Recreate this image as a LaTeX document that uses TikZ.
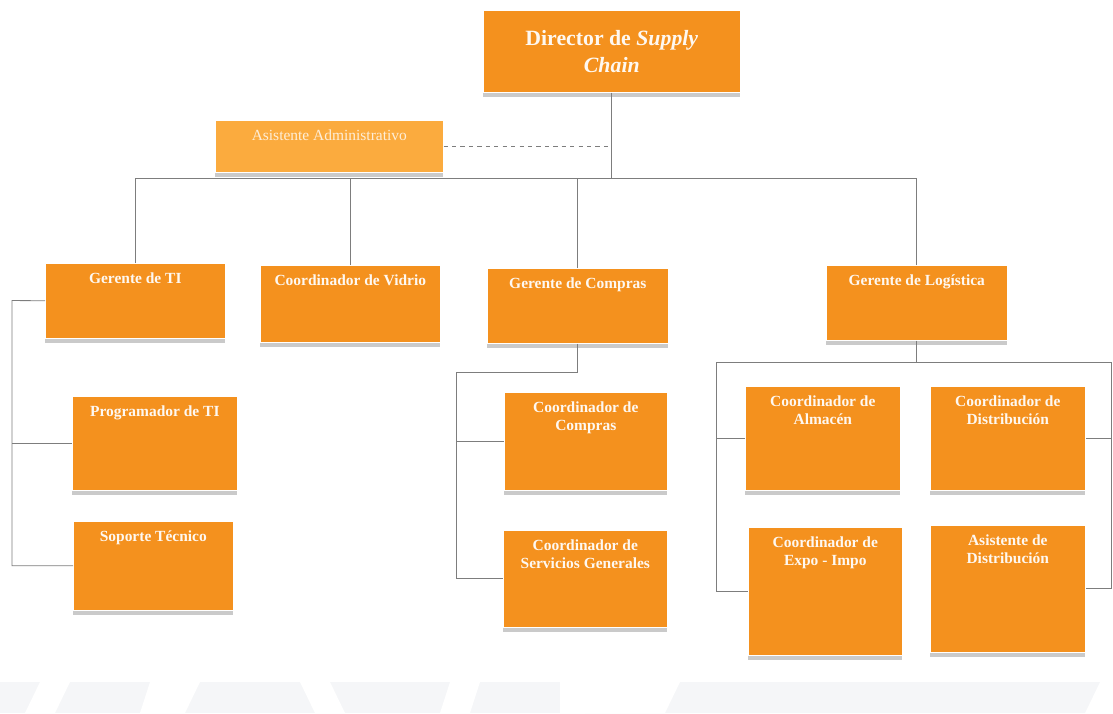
\documentclass[tikz,border=0pt]{standalone}
\usepackage{fontspec}
\setmainfont{Liberation Serif}
\usetikzlibrary{shadows}

\definecolor{boxorange}{RGB}{244,145,30}
\definecolor{asisorange}{RGB}{251,171,62}
\definecolor{lineg}{RGB}{125,125,125}
\definecolor{wmark}{RGB}{245,246,248}

\tikzset{
  orgbox/.style={draw=white, fill=boxorange, anchor=north west, inner sep=0pt,
    drop shadow={shadow xshift=0pt, shadow yshift=-3pt, fill=gray!70, opacity=.6}},
  boxtext/.style={anchor=north, yshift=-3.5pt, align=center, text=white!94!boxorange,
    font=\fontsize{11}{13}\selectfont\bfseries},
  conn/.style={draw=lineg, line width=0.6pt}
}

\begin{document}
\begin{tikzpicture}[x=0.025cm, y=-0.025cm]
  \useasboundingbox (0,0) rectangle (1113,713);
  % watermark at the bottom
  \fill[wmark] (0,682) -- (560,682) -- (560,713) -- (0,713) -- cycle;
  \fill[wmark] (585,682) -- (1100,682) -- (1085,713) -- (585,713) -- cycle;
  \fill[white] (40,682) -- (70,682) -- (55,713) -- (25,713) -- cycle;
  \fill[white] (150,682) -- (200,682) -- (185,713) -- (140,713) -- cycle;
  \fill[white] (300,682) -- (330,682) -- (345,713) -- (315,713) -- cycle;
  \fill[white] (450,682) -- (480,682) -- (470,713) -- (440,713) -- cycle;
  \fill[white] (575,682) rectangle (585,713);
  \fill[white] (585,682) -- (680,682) -- (665,713) -- (585,713) -- cycle;

  % top
  \node[orgbox, minimum width=6.425cm, minimum height=2.05cm, align=center, text=white!94!boxorange,
        font=\fontsize{15.5}{19}\selectfont\bfseries] (dir) at (483,10)
        {Director de \textit{Supply}\\\textit{Chain}};
  \node[orgbox, fill=asisorange, minimum width=5.7cm, minimum height=1.3cm,
        label={[boxtext, text=white!80!asisorange, font=\fontsize{11}{13}\selectfont]north:Asistente Administrativo}]
        (asis) at (215,120) {};

  % managers
  \node[orgbox, minimum width=4.5cm, minimum height=1.875cm,
        label={[boxtext]north:Gerente de TI}] (gti) at (45,263) {};
  \node[orgbox, minimum width=4.5cm, minimum height=1.925cm,
        label={[boxtext]north:Coordinador de Vidrio}] (cvid) at (260,265) {};
  \node[orgbox, minimum width=4.525cm, minimum height=1.875cm,
        label={[boxtext]north:Gerente de Compras}] (gcom) at (487,268) {};
  \node[orgbox, minimum width=4.525cm, minimum height=1.875cm,
        label={[boxtext]north:Gerente de Log\'istica}] (glog) at (826,265) {};

  % TI
  \node[orgbox, minimum width=4.125cm, minimum height=2.35cm,
        label={[boxtext]north:Programador de TI}] (prog) at (72,396) {};
  \node[orgbox, minimum width=4cm, minimum height=2.225cm,
        label={[boxtext]north:Soporte T\'ecnico}] (sop) at (73,521) {};

  % Compras
  \node[orgbox, minimum width=4.075cm, minimum height=2.45cm,
        label={[boxtext]north:Coordinador de\\Compras}] (ccom) at (504,392) {};
  \node[orgbox, minimum width=4.1cm, minimum height=2.425cm,
        label={[boxtext]north:Coordinador de\\Servicios Generales}] (csg) at (503,530) {};

  % Logistica
  \node[orgbox, minimum width=3.875cm, minimum height=2.6cm,
        label={[boxtext]north:Coordinador de\\Almac\'en}] (calm) at (745,386) {};
  \node[orgbox, minimum width=3.875cm, minimum height=2.6cm,
        label={[boxtext]north:Coordinador de\\Distribuci\'on}] (cdis) at (930,386) {};
  \node[orgbox, minimum width=3.85cm, minimum height=3.2cm,
        label={[boxtext]north:Coordinador de\\Expo - Impo}] (cexp) at (748,527) {};
  \node[orgbox, minimum width=3.875cm, minimum height=3.175cm,
        label={[boxtext]north:Asistente de\\Distribuci\'on}] (adis) at (930,525) {};

  % connectors
  \coordinate (busL) at (135,178);
  \coordinate (busR) at (916.5,178);
  \draw[conn] (dir.south) -- (dir.south |- busL);
  \draw[conn] (busL) -- (busR);
  \draw[conn, dashed] (asis.east) -- (asis.east -| dir.south);
  \draw[conn] (gti.north) -- (gti.north |- busL);
  \draw[conn] (cvid.north) -- (cvid.north |- busL);
  \draw[conn] (gcom.north) -- (gcom.north |- busL);
  \draw[conn] (glog.north) -- (glog.north |- busL);

  \coordinate (tiL) at (12,300.5);
  \draw[conn] (gti.west) -- (tiL) |- (sop.west);
  \draw[conn] (tiL |- prog.west) -- (prog.west);

  \coordinate (coL) at (456,372);
  \draw[conn] (gcom.south) |- (coL) |- (csg.west);
  \draw[conn] (coL |- ccom.west) -- (ccom.west);

  \coordinate (loL) at (716,362);
  \coordinate (loR) at (1111,362);
  \draw[conn] (glog.south) -- (glog.south |- loL);
  \draw[conn] (loL) -- (loR);
  \draw[conn] (loL) |- (cexp.west);
  \draw[conn] (loL |- calm.west) -- (calm.west);
  \draw[conn] (loR) |- (adis.east);
  \draw[conn] (loR |- cdis.east) -- (cdis.east);
\end{tikzpicture}
\end{document}
